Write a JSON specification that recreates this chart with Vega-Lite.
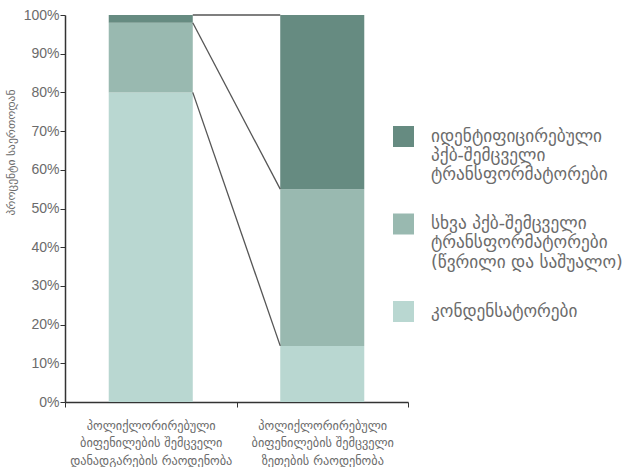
{
  "$schema": "https://vega.github.io/schema/vega-lite/v6.json",
  "width": 343,
  "height": 387,
  "padding": {"left": 5, "top": 8, "right": 0, "bottom": 0},
  "config": {
    "view": {"stroke": null},
    "font": "Liberation Sans, DejaVu Sans",
    "axis": {"labelFont": "Liberation Sans, DejaVu Sans", "titleFont": "DejaVu Sans"},
    "axisY": {
      "titleFontSize": 11.5,
      "titleFontWeight": "normal",
      "titleColor": "#6b6b6b",
      "titlePadding": 7,
      "titleY": 137,
      "tickCount": 11,
      "labelOverlap": false,
      "labelFlush": false,
      "labelFontSize": 14,
      "labelColor": "#6b6b6b",
      "labelPadding": 1,
      "tickSize": 5,
      "tickColor": "#333333",
      "domainColor": "#333333",
      "domainWidth": 1.5,
      "grid": false
    }
  },
  "data": {
    "values": [
      {"cat": "პოლიქლორირებული\nბიფენილების შემცველი\nდანადგარების რაოდენობა", "seg": "კონდენსატორები", "order": 1, "value": 80},
      {"cat": "პოლიქლორირებული\nბიფენილების შემცველი\nდანადგარების რაოდენობა", "seg": "სხვა პქბ-შემცველი\nტრანსფორმატორები\n(წვრილი და საშუალო)", "order": 2, "value": 18},
      {"cat": "პოლიქლორირებული\nბიფენილების შემცველი\nდანადგარების რაოდენობა", "seg": "იდენტიფიცირებული\nპქბ-შემცველი\nტრანსფორმატორები", "order": 3, "value": 2},
      {"cat": "პოლიქლორირებული\nბიფენილების შემცველი\nზეთების  რაოდენობა", "seg": "კონდენსატორები", "order": 1, "value": 14.5},
      {"cat": "პოლიქლორირებული\nბიფენილების შემცველი\nზეთების  რაოდენობა", "seg": "სხვა პქბ-შემცველი\nტრანსფორმატორები\n(წვრილი და საშუალო)", "order": 2, "value": 40.5},
      {"cat": "პოლიქლორირებული\nბიფენილების შემცველი\nზეთების  რაოდენობა", "seg": "იდენტიფიცირებული\nპქბ-შემცველი\nტრანსფორმატორები", "order": 3, "value": 45}
    ]
  },
  "transform": [
    {"stack": "value", "groupby": ["cat"], "sort": [{"field": "order", "order": "ascending"}], "as": ["lo", "hi"]}
  ],
  "layer": [
    {
      "mark": {"type": "bar", "width": {"band": 0.49}},
      "encoding": {
        "x": {
          "field": "cat", "type": "nominal", "sort": null,
          "scale": {"paddingInner": 0, "paddingOuter": 0},
          "axis": {
            "title": null,
            "labelAngle": 0,
            "labelExpr": "split(datum.label, '\\n')",
            "labelFont": "DejaVu Sans",
            "labelFontSize": 12.3,
            "labelLineHeight": 17.5,
            "labelColor": "#6b6b6b",
            "labelPadding": 12,
            "labelLimit": 0,
            "tickBand": "extent",
            "tickSize": 5,
            "tickColor": "#333333",
            "domainColor": "#333333",
            "domainWidth": 1.5
          }
        },
        "y": {
          "field": "lo", "type": "quantitative",
          "scale": {"domain": [0, 100], "nice": false},
          "axis": {
            "title": "პროცენტი საერთოდან",
            "values": [0, 10, 20, 30, 40, 50, 60, 70, 80, 90, 100],
            "labelExpr": "datum.value + '%'"
          }
        },
        "y2": {"field": "hi"},
        "color": {
          "field": "seg", "type": "nominal",
          "scale": {
            "domain": [
              "იდენტიფიცირებული\nპქბ-შემცველი\nტრანსფორმატორები",
              "სხვა პქბ-შემცველი\nტრანსფორმატორები\n(წვრილი და საშუალო)",
              "კონდენსატორები"
            ],
            "range": ["#668b81", "#99b9b0", "#b9d7d1"]
          },
          "legend": {
            "title": null,
            "orient": "none",
            "legendX": 328,
            "legendY": 111,
            "padding": 0,
            "symbolType": "square",
            "symbolSize": 441,
            "symbolStrokeWidth": 0,
            "symbolOpacity": 1,
            "labelExpr": "split(datum.label, '\\n')",
            "labelFont": "DejaVu Sans",
            "labelFontSize": 17.3,
            "labelLineHeight": 22,
            "labelColor": "#6b6b6b",
            "labelLimit": 0,
            "labelOffset": 17,
            "rowPadding": 29.5
          }
        }
      }
    },
    {
      "mark": {"type": "line", "color": "#555555", "strokeWidth": 1.3},
      "encoding": {
        "x": {
          "field": "cat", "type": "nominal", "sort": null,
          "scale": {"type": "band", "paddingInner": 0.08, "paddingOuter": 1},
          "axis": null
        },
        "y": {
          "field": "hi", "type": "quantitative",
          "axis": {
            "title": "პროცენტი საერთოდან",
            "values": [0, 10, 20, 30, 40, 50, 60, 70, 80, 90, 100],
            "labelExpr": "datum.value + '%'"
          }
        },
        "detail": {"field": "seg"}
      }
    }
  ],
  "resolve": {"scale": {"x": "independent"}}
}
